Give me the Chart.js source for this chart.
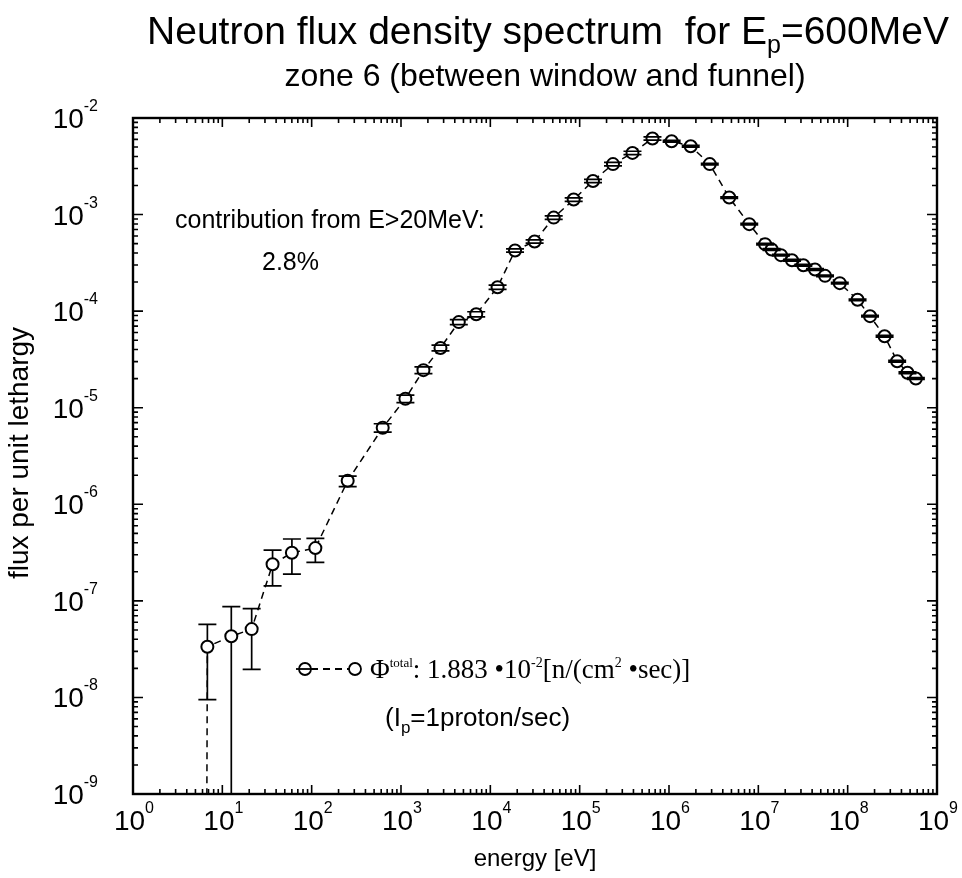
<!DOCTYPE html>
<html>
<head>
<meta charset="utf-8">
<script src="https://cdn.jsdelivr.net/npm/chart.js@4.4.0/dist/chart.umd.min.js"></script>
<style>
  html, body { margin: 0; padding: 0; background: #fff; }
  #wrap { width: 962px; height: 878px; }
</style>
</head>
<body>
<div id="wrap"><canvas id="fluxChart" width="962" height="878"></canvas></div>
<script>
// energy bins [eV]; first entry is the empty bin the dashed line drops to
const energy = [6.6, 6.8, 12.6, 21.3, 36.5, 60.1, 110, 253, 624, 1120, 1783, 2766, 4436, 6950,
    12050, 18900, 31300, 51200, 85700, 1.41e5, 2.36e5, 3.9e5, 6.53e5, 1.07e6, 1.75e6, 2.86e6,
    4.72e6, 7.91e6, 1.19e7, 1.41e7, 1.79e7, 2.38e7, 3.19e7, 4.31e7, 5.58e7, 8.16e7, 1.29e8,
    1.78e8, 2.59e8, 3.58e8, 4.67e8, 5.8e8];
// flux per unit lethargy
const flux = [1e-11, 3.35e-8, 4.3e-8, 5.1e-8, 2.39e-7, 3.15e-7, 3.52e-7, 1.75e-6, 6.2e-6, 1.24e-5,
    2.45e-5, 4.16e-5, 7.7e-5, 9.3e-5, 1.77e-4, 4.25e-4, 5.27e-4, 9.3e-4, 1.43e-3, 2.23e-3, 3.33e-3,
    4.35e-3, 6.14e-3, 5.75e-3, 5.1e-3, 3.33e-3, 1.5e-3, 7.96e-4, 4.94e-4, 4.35e-4, 3.8e-4, 3.37e-4,
    2.99e-4, 2.7e-4, 2.32e-4, 1.95e-4, 1.31e-4, 8.87e-5, 5.5e-5, 3.03e-5, 2.3e-5, 2.01e-5];
// error bar ends for the low-energy bins
const errHigh = [null, 5.7e-8, 8.7e-8, 8.3e-8, 3.36e-7, 4.37e-7, 4.44e-7, 1.96e-6];
const errLow = [null, 9.5e-9, 1e-11, 1.95e-8, 1.43e-7, 1.89e-7, 2.5e-7, 1.52e-6];
// relative errors for the remaining bins
const relErr = [0.10, 0.09, 0.08, 0.07, 0.06, 0.06, 0.05, 0.04, 0.04, 0.04, 0.04, 0.04, 0.04,
    0.04, 0.04, 0.02, 0.02, 0.02, 0.02, 0.02, 0.02, 0.02, 0.02, 0.02, 0.02, 0.02, 0.02, 0.02,
    0.02, 0.02, 0.02, 0.02, 0.02, 0.02];

const xTickExps = [0, 1, 2, 3, 4, 5, 6, 7, 8, 9];
const yTickExps = [-9, -8, -7, -6, -5, -4, -3, -2];

const SANS = '"Liberation Sans", Arial, Helvetica, sans-serif';
const SERIF = '"Liberation Serif", "Times New Roman", serif';
const MARKER_R = 6;

// text made of pieces, some raised or lowered, drawn left to right
function drawRuns(ctx, runs, x, y) {
    let cx = x;
    runs.forEach(r => {
        ctx.font = r.font;
        ctx.fillText(r.text, cx, y + (r.dy || 0));
        cx += ctx.measureText(r.text).width;
    });
    return cx;
}
function runsWidth(ctx, runs) {
    let w = 0;
    runs.forEach(r => { ctx.font = r.font; w += ctx.measureText(r.text).width; });
    return w;
}
function powRuns(exp) {
    return [
        { text: '10', font: '28px ' + SANS },
        { text: String(exp), font: '16px ' + SANS, dy: -17 }
    ];
}

const axesDecor = {
    id: 'axesDecor',
    afterDraw(chart) {
        const { ctx, chartArea: a, scales: { x, y } } = chart;
        ctx.save();
        ctx.fillStyle = '#000';
        ctx.strokeStyle = '#000';
        ctx.textBaseline = 'alphabetic';

        // frame
        ctx.lineWidth = 2.4;
        ctx.strokeRect(a.left, a.top, a.right - a.left, a.bottom - a.top);

        // ticks on all four sides, pointing in
        ctx.lineWidth = 1.6;
        ctx.beginPath();
        for (let e = 0; e < 9; e++) {
            for (let m = 1; m <= 9; m++) {
                const px = x.getPixelForValue(m * Math.pow(10, e));
                const len = m === 1 ? 9 : 5;
                ctx.moveTo(px, a.bottom); ctx.lineTo(px, a.bottom - len);
                ctx.moveTo(px, a.top); ctx.lineTo(px, a.top + len);
            }
        }
        for (let e = -9; e < -2; e++) {
            for (let m = 1; m <= 9; m++) {
                const py = y.getPixelForValue(m * Math.pow(10, e));
                const len = m === 1 ? 10 : 5;
                ctx.moveTo(a.left, py); ctx.lineTo(a.left + len, py);
                ctx.moveTo(a.right, py); ctx.lineTo(a.right - len, py);
            }
        }
        ctx.stroke();

        // tick labels
        xTickExps.forEach(e => {
            const px = x.getPixelForValue(Math.pow(10, e));
            const runs = powRuns(e);
            drawRuns(ctx, runs, px - runsWidth(ctx, runs) / 2 + 1, a.bottom + 36);
        });
        yTickExps.forEach(e => {
            const py = y.getPixelForValue(Math.pow(10, e));
            const runs = powRuns(e);
            drawRuns(ctx, runs, 98 - runsWidth(ctx, runs), py + 10);
        });

        // axis titles
        ctx.font = '24px ' + SANS;
        ctx.textAlign = 'center';
        ctx.fillText('energy [eV]', (a.left + a.right) / 2, 866);
        ctx.save();
        ctx.font = '28px ' + SANS;
        ctx.translate(28, (a.top + a.bottom) / 2 - 3);
        ctx.rotate(-Math.PI / 2);
        ctx.fillText('flux per unit lethargy', 0, 0);
        ctx.restore();
        ctx.textAlign = 'left';

        // titles
        const titleRuns = [
            { text: 'Neutron flux density spectrum  for E', font: '39px ' + SANS },
            { text: 'p', font: '25px ' + SANS, dy: 9 },
            { text: '=600MeV', font: '39px ' + SANS }
        ];
        drawRuns(ctx, titleRuns, 548 - runsWidth(ctx, titleRuns) / 2, 44);
        ctx.font = '32px ' + SANS;
        ctx.textAlign = 'center';
        ctx.fillText('zone 6 (between window and funnel)', 545, 86);
        ctx.textAlign = 'left';

        // annotation
        ctx.font = '25px ' + SANS;
        ctx.fillText('contribution from E>20MeV:', 175, 228);
        ctx.fillText('2.8%', 262, 270);

        // legend
        const ly = 669;
        ctx.lineWidth = 1.8;
        ctx.setLineDash([7, 5]);
        ctx.beginPath();
        ctx.moveTo(305 + MARKER_R, ly); ctx.lineTo(355 - MARKER_R, ly);
        ctx.stroke();
        ctx.setLineDash([]);
        [305, 355].forEach(cx => {
            ctx.beginPath();
            ctx.arc(cx, ly, MARKER_R, 0, Math.PI * 2);
            ctx.stroke();
        });
        ctx.beginPath();
        ctx.moveTo(305 - 9, ly); ctx.lineTo(305 + 9, ly);
        ctx.stroke();
        drawRuns(ctx, [
            { text: '\u03A6', font: '27px ' + SERIF },
            { text: 'total', font: '13px ' + SERIF, dy: -11 },
            { text: ': 1.883 \u202210', font: '27px ' + SERIF },
            { text: '-2', font: '14px ' + SERIF, dy: -11 },
            { text: '[n/(cm', font: '27px ' + SERIF },
            { text: '2', font: '14px ' + SERIF, dy: -11 },
            { text: ' \u2022sec)]', font: '27px ' + SERIF }
        ], 370, ly + 9);
        drawRuns(ctx, [
            { text: '(I', font: '26px ' + SANS },
            { text: 'p', font: '17px ' + SANS, dy: 7 },
            { text: '=1proton/sec)', font: '26px ' + SANS }
        ], 385, 726);

        ctx.restore();
    }
};

const errorBars = {
    id: 'errorBars',
    afterDatasetsDraw(chart) {
        const { ctx, chartArea: a, scales: { x, y } } = chart;
        ctx.save();
        ctx.beginPath();
        ctx.rect(a.left, a.top, a.right - a.left, a.bottom - a.top);
        ctx.clip();
        ctx.strokeStyle = '#000';
        ctx.lineWidth = 1.7;
        ctx.beginPath();
        for (let i = 1; i < energy.length; i++) {
            let hi, lo;
            if (i < errHigh.length) {
                hi = errHigh[i]; lo = errLow[i];
            } else {
                const r = relErr[i - errHigh.length];
                hi = flux[i] * (1 + r); lo = flux[i] * (1 - r);
            }
            const px = x.getPixelForValue(energy[i]);
            const py = y.getPixelForValue(flux[i]);
            const pHi = y.getPixelForValue(hi);
            const pLo = y.getPixelForValue(lo);
            if (py - pHi > MARKER_R) { ctx.moveTo(px, pHi); ctx.lineTo(px, py - MARKER_R); }
            if (pLo - py > MARKER_R) { ctx.moveTo(px, py + MARKER_R); ctx.lineTo(px, pLo); }
            ctx.moveTo(px - 9, pHi); ctx.lineTo(px + 9, pHi);
            ctx.moveTo(px - 9, pLo); ctx.lineTo(px + 9, pLo);
        }
        ctx.stroke();
        ctx.restore();
    }
};

new Chart(document.getElementById('fluxChart').getContext('2d'), {
    type: 'scatter',
    data: {
        datasets: [{
            label: 'flux',
            data: energy.map((e, i) => ({ x: e, y: flux[i] })),
            showLine: true,
            borderColor: '#000',
            borderWidth: 1.5,
            borderDash: [7, 5],
            pointRadius: ctx => ctx.dataIndex === 0 ? 0 : MARKER_R,
            pointBorderWidth: 2,
            pointBorderColor: '#000',
            pointBackgroundColor: '#fff',
            pointStyle: 'circle'
        }]
    },
    options: {
        responsive: false,
        animation: false,
        devicePixelRatio: 1,
        layout: { padding: { left: 133, top: 118, right: 25, bottom: 84 } },
        scales: {
            x: { type: 'logarithmic', min: 1, max: 1e9, display: false },
            y: { type: 'logarithmic', min: 1e-9, max: 1e-2, display: false }
        },
        plugins: {
            legend: { display: false },
            tooltip: { enabled: false },
            title: { display: false }
        }
    },
    plugins: [errorBars, axesDecor]
});
</script>
</body>
</html>
